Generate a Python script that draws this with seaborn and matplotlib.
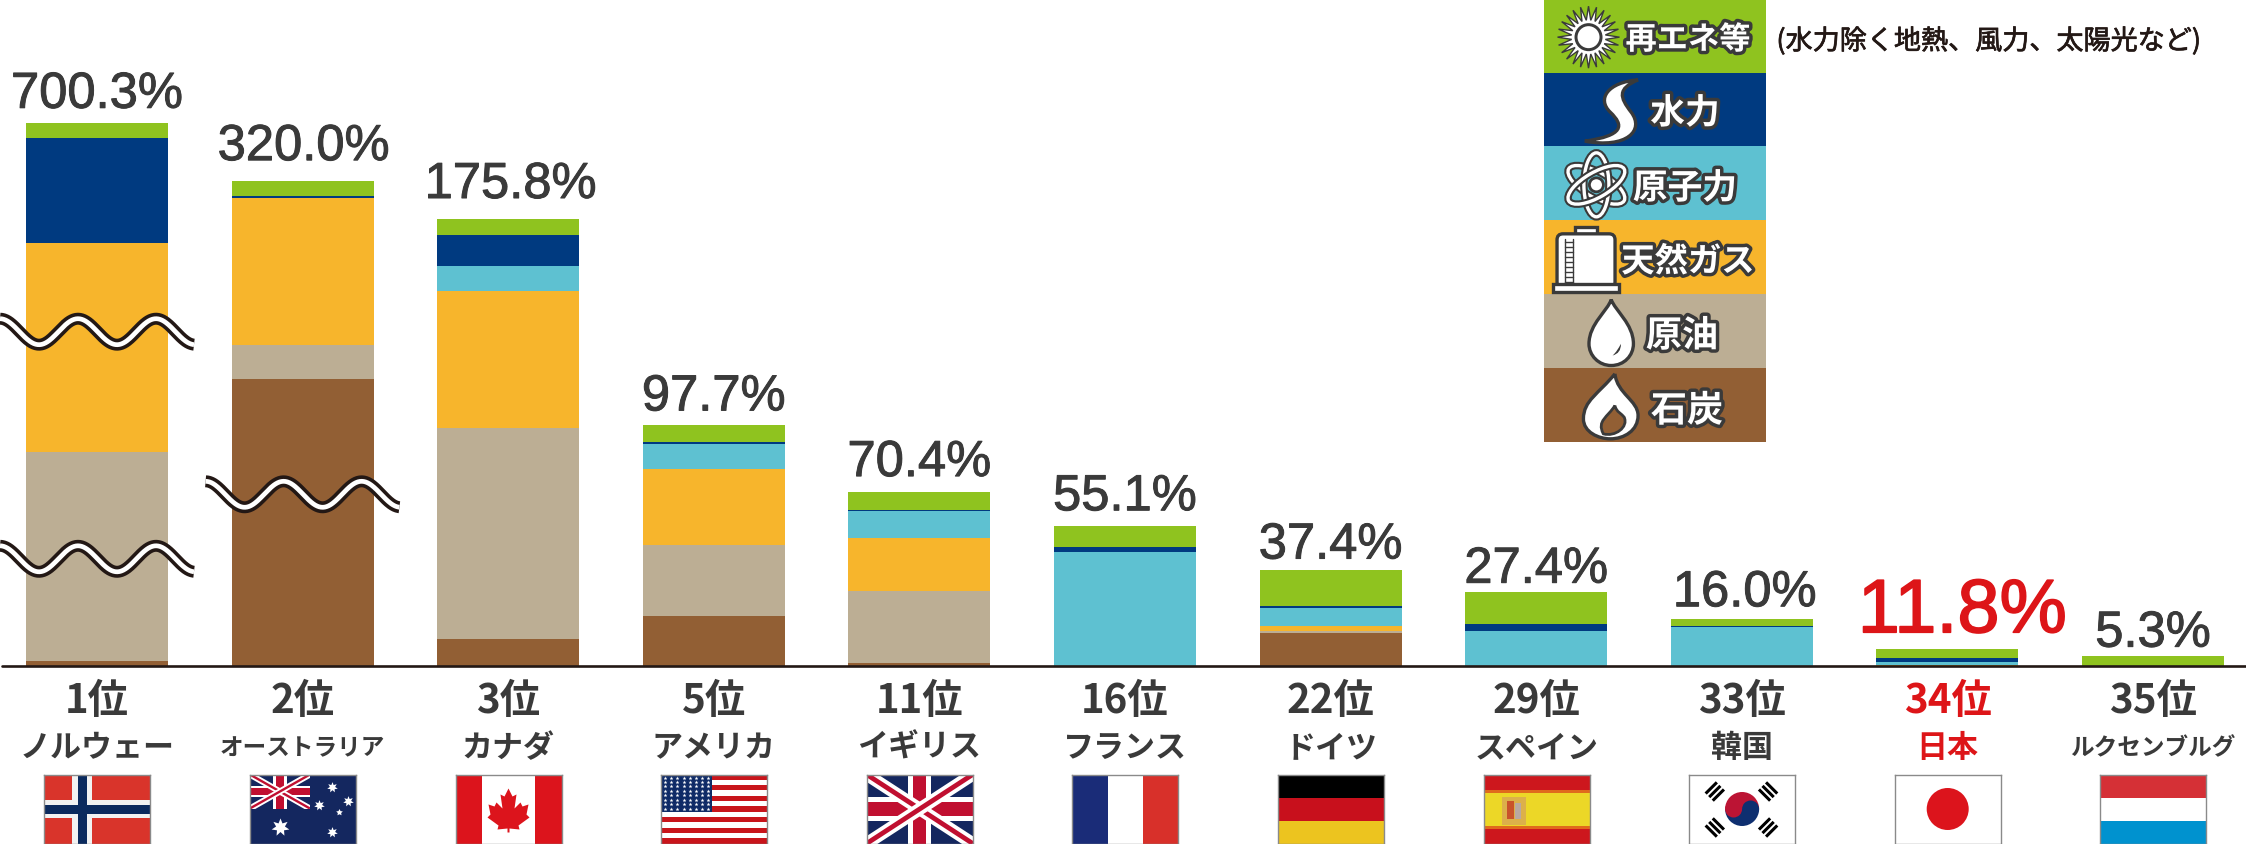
import numpy as np
import pandas as pd
import matplotlib
matplotlib.use("Agg")
import matplotlib.pyplot as plt
import matplotlib.patheffects as pe
from matplotlib.patches import Rectangle, Circle, Ellipse, Wedge, Polygon, PathPatch, FancyBboxPatch
from matplotlib.path import Path
import seaborn as sns

# --- data ---
countries = ['ノルウェー', 'オーストラリア', 'カナダ', 'アメリカ', 'イギリス', 'フランス',
             'ドイツ', 'スペイン', '韓国', '日本', 'ルクセンブルグ']
ranks = ['1位', '2位', '3位', '5位', '11位', '16位', '22位', '29位', '33位', '34位', '35位']
totals = [700.3, 320.0, 175.8, 97.7, 70.4, 55.1, 37.4, 27.4, 16.0, 11.8, 5.3]

# segment heights as drawn (first two bars are squeezed by the axis breaks)
coal = [2.0, 116.5, 11.0, 20.5, 1.2, 0, 13.3, 0, 0, 0, 0]
oil = [85.0, 14.1, 85.9, 28.5, 29.4, 0, 0.9, 0, 0, 0, 0]
gas = [85.1, 59.6, 55.6, 31.1, 21.6, 0, 2.0, 0, 0, 0.3, 0]
nuclear = [0, 0, 10.3, 10.3, 10.7, 46.3, 7.3, 14.1, 15.7, 1.2, 0]
hydro = [42.7, 0.9, 12.4, 0.8, 0.5, 2.0, 0.7, 3.0, 0.5, 1.6, 0]
renew = [5.8, 6.0, 6.5, 6.6, 7.3, 8.5, 15.0, 12.9, 2.8, 3.7, 4.2]

energy_names = ['石炭', '原油', '天然ガス', '原子力', '水力', '再エネ等']
energy_colors = ['#925f34', '#bcae94', '#f7b52c', '#5ec1d1', '#003a80', '#8fc31f']
note = '(水力除く地熱、風力、太陽光など)'

# --- layout (pixels) ---
W, H = 2246, 845
BASE_Y = 667
PX_PER_UNIT = 2.46
BAR_X0, BAR_STEP = 97, 205.6
LAB_X0, LAB_STEP = 97, 205.6
DARK = '#3a3a3a'
RED = '#dd1518'
CJK = ['Noto Sans CJK JP', 'DejaVu Sans']

label_gap = [15.5, 21, 21, 15, 16, 16, 11, 9.5, 13, 17, 9]
label_dx = [0, 1, 2.5, 0, 0, 0, 0, 0, 3, 15, 0]

sns.set_theme(style="white")
fig = plt.figure(figsize=(W / 100, H / 100), dpi=100, facecolor='white')
ax = fig.add_axes([0, 0, 1, 1])

df = pd.DataFrame({'country': countries, '石炭': coal, '原油': oil, '天然ガス': gas,
                   '原子力': nuclear, '水力': hydro, '再エネ等': renew})
cum = df[energy_names].cumsum(axis=1)

# stacked bars: draw cumulative heights from the top segment down
for name, color in list(zip(energy_names, energy_colors))[::-1]:
    sns.barplot(x=df['country'], y=cum[name], color=color, saturation=1, width=0.69,
                linewidth=0, errorbar=None, ax=ax)

ax.set_xlim(-BAR_X0 / BAR_STEP, (W - BAR_X0) / BAR_STEP)
ax.set_ylim((BASE_Y - H) / PX_PER_UNIT, BASE_Y / PX_PER_UNIT)
ax.axis('off')
ax.plot([-BAR_X0 / BAR_STEP + 0.01, (W - BAR_X0) / BAR_STEP], [0, 0], color='#231815', lw=1.9, zorder=5)

tops = cum['再エネ等'].values
for i, v in enumerate(totals):
    is_japan = countries[i] == '日本'
    c = RED if is_japan else DARK
    t = ax.annotate(f'{v:.1f}%', (i, tops[i]), xytext=(label_dx[i] * 0.72, label_gap[i] * 0.72),
                    textcoords='offset points', ha='center', va='baseline',
                    family='Liberation Sans', fontsize=54.5 if is_japan else 36.5,
                    color=c, annotation_clip=False)
    t.set_path_effects([pe.withStroke(linewidth=1.2 if is_japan else 0.7, foreground=c)])

# overlay in pixel coordinates for breaks, axis labels and the legend
ov = fig.add_axes([0, 0, 1, 1], facecolor='none')
ov.set_xlim(0, W)
ov.set_ylim(H, 0)
ov.axis('off')


def wave(x0, x1, cy):
    x = np.linspace(x0, x1, 300)
    y = cy - 13 * np.cos(2 * np.pi * (x - x0) / 78)
    ov.plot(x, y, color='#231815', lw=8.6, solid_capstyle='butt', zorder=6)
    ov.plot(x, y, color='white', lw=3.4, solid_capstyle='butt', zorder=7)


wave(0, 194, 332.7)
wave(0, 194, 559.8)
wave(205.6, 399.4, 495.3)

for i in range(len(countries)):
    cx = LAB_X0 + LAB_STEP * i
    c = RED if countries[i] == '日本' else DARK
    ov.text(cx, 713, ranks[i], ha='center', va='baseline', family=CJK, weight='bold',
            fontsize=29, color=c)
    size = 17 if len(countries[i]) == 7 else 22.3
    ov.text(cx, 748, countries[i], ha='center', va='center', family=CJK, weight='bold',
            fontsize=size, color=c)


# --- flags ---
FW, FH = 106, 69


def union_jack(a, x0, y0, w, h):
    clip = Rectangle((x0, y0), w, h, transform=a.transData)
    a.add_patch(Rectangle((x0, y0), w, h, fc='#14275f', ec='none'))
    for xs, ys in [((x0, x0 + w), (y0, y0 + h)), ((x0, x0 + w), (y0 + h, y0))]:
        line, = a.plot(xs, ys, color='white', lw=h * 0.13, solid_capstyle='butt')
        line.set_clip_path(clip)
        line, = a.plot(xs, ys, color='#c00f30', lw=h * 0.05, solid_capstyle='butt')
        line.set_clip_path(clip)
    a.add_patch(Rectangle((x0, y0 + h * 0.33), w, h * 0.34, fc='white', ec='none'))
    a.add_patch(Rectangle((x0 + w * 0.39, y0), w * 0.22, h, fc='white', ec='none'))
    a.add_patch(Rectangle((x0, y0 + h * 0.40), w, h * 0.20, fc='#c00f30', ec='none'))
    a.add_patch(Rectangle((x0 + w * 0.44, y0), w * 0.12, h, fc='#c00f30', ec='none'))


def flag_norway(a):
    a.add_patch(Rectangle((0, 0), FW, FH, fc='#d9342b', ec='none'))
    a.add_patch(Rectangle((28, 0), 20, FH, fc='#f2f2f2', ec='none'))
    a.add_patch(Rectangle((0, 25.5), FW, 18, fc='#f2f2f2', ec='none'))
    a.add_patch(Rectangle((33.5, 0), 9, FH, fc='#0b2a5e', ec='none'))
    a.add_patch(Rectangle((0, 30), FW, 9, fc='#0b2a5e', ec='none'))


def flag_australia(a):
    a.add_patch(Rectangle((0, 0), FW, FH, fc='#14275f', ec='none'))
    union_jack(a, 0, 0, 60, 34)
    a.scatter([30], [52], marker=(7, 1, 0), s=170, c='white', linewidths=0)
    a.scatter([82, 98, 69, 82], [12, 26, 30, 57], marker=(7, 1, 0), s=60, c='white', linewidths=0)
    a.scatter([89], [37], marker=(5, 1, 0), s=25, c='white', linewidths=0)


def flag_canada(a):
    a.add_patch(Rectangle((0, 0), 26.5, FH, fc='#dc141c', ec='none'))
    a.add_patch(Rectangle((79.5, 0), 26.5, FH, fc='#dc141c', ec='none'))
    half = [(0, 14), (4, 22), (8, 20), (6, 34), (12, 28), (14, 32), (20, 30), (18, 40),
            (21, 43), (10, 51), (11, 55), (1, 54), (1, 58)]
    pts = [(53 + x, y) for x, y in half] + [(53 - x, y) for x, y in half[::-1]]
    a.add_patch(Polygon(pts, closed=True, fc='#dc141c', ec='none'))


def flag_usa(a):
    a.add_patch(Rectangle((0, 0), FW, FH, fc='white', ec='none'))
    sh = FH / 13
    for k in range(0, 13, 2):
        a.add_patch(Rectangle((0, k * sh), FW, sh, fc='#c8151b', ec='none'))
    a.add_patch(Rectangle((0, 0), 51, 37, fc='#0e2a66', ec='none'))
    xs, ys = np.meshgrid(np.linspace(4, 47, 8), np.linspace(3, 34, 8))
    a.scatter(xs.ravel(), ys.ravel(), s=9, c='white', marker='*', linewidths=0)


def flag_uk(a):
    union_jack(a, 0, 0, FW, FH)


def flag_france(a):
    a.add_patch(Rectangle((0, 0), 35.3, FH, fc='#1a2c78', ec='none'))
    a.add_patch(Rectangle((35.3, 0), 35.3, FH, fc='white', ec='none'))
    a.add_patch(Rectangle((70.6, 0), 35.4, FH, fc='#d8302a', ec='none'))


def flag_germany(a):
    for k, c in enumerate(['#000000', '#c8101c', '#ecc41f']):
        a.add_patch(Rectangle((0, k * 23), FW, 23, fc=c, ec='none'))


def flag_spain(a):
    a.add_patch(Rectangle((0, 0), FW, FH, fc='#cd171d', ec='none'))
    a.add_patch(Rectangle((0, 15), FW, 39, fc='#e06a1c', ec='none'))
    a.add_patch(Rectangle((0, 18), FW, 33, fc='#ecd727', ec='none'))
    a.add_patch(Rectangle((18, 22), 24, 28, fc='#dcb04a', ec='none'))
    a.add_patch(Rectangle((23, 26), 7, 18, fc='#c9532a', ec='none'))
    a.add_patch(Rectangle((31, 28), 6, 16, fc='#b9a8a0', ec='none'))


def flag_korea(a):
    a.add_patch(Rectangle((0, 0), FW, FH, fc='white', ec='none'))
    cx, cy, r = 53, 34.5, 17
    a.add_patch(Wedge((cx, cy), r, 180, 360, fc='#bc1434', ec='none'))
    a.add_patch(Wedge((cx, cy), r, 0, 180, fc='#0e2f70', ec='none'))
    a.add_patch(Circle((cx - r / 2, cy), r / 2, fc='#bc1434', ec='none'))
    a.add_patch(Circle((cx + r / 2, cy), r / 2, fc='#0e2f70', ec='none'))
    for gx, gy, sgn in [(25.7, 17, 1), (79, 17, -1), (25.7, 53, -1), (79, 53, 1)]:
        for off in [-5, 0, 5]:
            dx, dy = 5.6 * sgn, -5.6
            mx, my = gx + off * 0.71, gy + off * 0.71 * sgn
            a.plot([mx - dx, mx + dx], [my - dy, my + dy], color='black', lw=2.2,
                   solid_capstyle='butt')


def flag_japan(a):
    a.add_patch(Rectangle((0, 0), FW, FH, fc='white', ec='none'))
    a.add_patch(Circle((53, 34.5), 21, fc='#dc141c', ec='none'))


def flag_luxembourg(a):
    for k, c in enumerate(['#d53036', '#ffffff', '#0092cf']):
        a.add_patch(Rectangle((0, k * 23), FW, 23, fc=c, ec='none'))


flag_funcs = [flag_norway, flag_australia, flag_canada, flag_usa, flag_uk, flag_france,
              flag_germany, flag_spain, flag_korea, flag_japan, flag_luxembourg]
for i, draw in enumerate(flag_funcs):
    left = 44.3 + LAB_STEP * i
    a = fig.add_axes([left / W, 1 - (775.5 + FH) / H, FW / W, FH / H], facecolor='white')
    a.set_xlim(0, FW)
    a.set_ylim(FH, 0)
    a.set_xticks([])
    a.set_yticks([])
    draw(a)
    for s in a.spines.values():
        s.set_visible(True)
        s.set_color('#8a8a8a')
        s.set_linewidth(1)

# --- legend ---
LEG_X0, LEG_X1 = 1544, 1766
LEG_TOPS = [0, 73.6, 147, 221, 295, 368.7, 442.7]
for k, c in enumerate(energy_colors[::-1]):
    ov.add_patch(Rectangle((LEG_X0, LEG_TOPS[k]), LEG_X1 - LEG_X0, LEG_TOPS[k + 1] - LEG_TOPS[k],
                           fc=c, ec='none', zorder=2))

legend_text = [(1688, 41, 22.5), (1685, 114, 25), (1685, 189, 25), (1688, 263, 24),
               (1682, 337, 26), (1687, 412, 26)]
outline = [pe.withStroke(linewidth=5, foreground=DARK)]
for (x, y, size), name in zip(legend_text, energy_names[::-1]):
    t = ov.text(x, y, name, ha='center', va='center', family=CJK,
                weight='bold', fontsize=size, color='white', zorder=4)
    t.set_path_effects(outline)

t = ov.text(1989, 42, note, ha='center', va='center', family=CJK, fontsize=19.5, color='#231815')
t.set_path_effects([pe.withStroke(linewidth=0.5, foreground='#231815')])


def z(zx, zy):
    return (1520 + zx / 2.16, zy / 3 + 1.5)


def curve(points, **kw):
    # points: start then triples of bezier control points, in zoom coords
    verts = [z(*p) for p in points]
    codes = [Path.MOVETO] + [Path.CURVE4] * (len(verts) - 1)
    ov.add_patch(PathPatch(Path(verts, codes), zorder=3, **kw))


icon = dict(fc='white', ec=DARK, lw=2.4)

# sun
sx, sy = z(148, 110)
ang = np.linspace(0, 2 * np.pi, 49)[:-1]
rad = np.where(np.arange(48) % 2 == 0, 31, 17)
ov.add_patch(Polygon(np.c_[sx + rad * np.cos(ang), sy + rad * np.sin(ang)], closed=True,
                     fc='white', ec=DARK, lw=1, zorder=3))
ov.add_patch(Circle((sx, sy), 14, fc=DARK, ec='none', zorder=3))
ov.add_patch(Circle((sx, sy), 11, fc='white', ec='none', zorder=3))

# water
curve([(255, 238), (190, 245), (165, 295), (195, 335), (225, 375), (225, 405), (140, 422),
       (230, 445), (270, 390), (240, 335), (215, 290), (210, 265), (255, 238)], **icon)

# atom
ax_c = z(165, 553)
for angle in [30, 90, 150]:
    ell = Ellipse(ax_c, 64, 25, angle=angle, fc='none', ec='white', lw=2.4, zorder=3)
    ell.set_path_effects([pe.withStroke(linewidth=5.4, foreground=DARK)])
    ov.add_patch(ell)
ov.add_patch(Circle(ax_c, 7, fc='white', ec=DARK, lw=2, zorder=3))

# gas tank
tx, ty = z(80, 700)
ov.add_patch(Rectangle(z(118, 680), 22, 8, zorder=3, **icon))
ov.add_patch(FancyBboxPatch((tx + 2, ty + 2), 54, 50, boxstyle='round,pad=2,rounding_size=6', zorder=3, **icon))
ov.add_patch(Rectangle(z(72, 850), 66, 8, zorder=3, **icon))
lx = tx + 8
ov.plot([lx, lx], [ty + 5, ty + 50], color=DARK, lw=1, zorder=3)
ov.plot([lx + 8, lx + 8], [ty + 5, ty + 50], color=DARK, lw=1, zorder=3)
for ly in np.arange(ty + 8, ty + 50, 5):
    ov.plot([lx, lx + 8], [ly, ly], color=DARK, lw=1, zorder=3)

# oil drop
curve([(197, 897), (205, 930), (245, 970), (245, 1030), (245, 1065), (225, 1095), (197, 1095),
       (170, 1095), (149, 1065), (149, 1030), (149, 970), (190, 930), (197, 897)], **icon)
curve([(218, 1030), (218, 1050), (212, 1060), (200, 1065), (208, 1055), (212, 1045), (218, 1030)],
      fc=DARK, ec='none')

# coal flame
curve([(205, 1120), (170, 1180), (137, 1200), (137, 1255), (137, 1295), (170, 1315), (195, 1315),
       (225, 1315), (255, 1290), (255, 1245), (255, 1200), (210, 1180), (205, 1120)], **icon)
curve([(205, 1215), (190, 1250), (165, 1260), (180, 1300), (205, 1310), (235, 1280), (225, 1250),
       (220, 1240), (208, 1235), (205, 1215)], fc='#925f34', ec=DARK, lw=2)

plt.savefig('out.png', dpi=100)
